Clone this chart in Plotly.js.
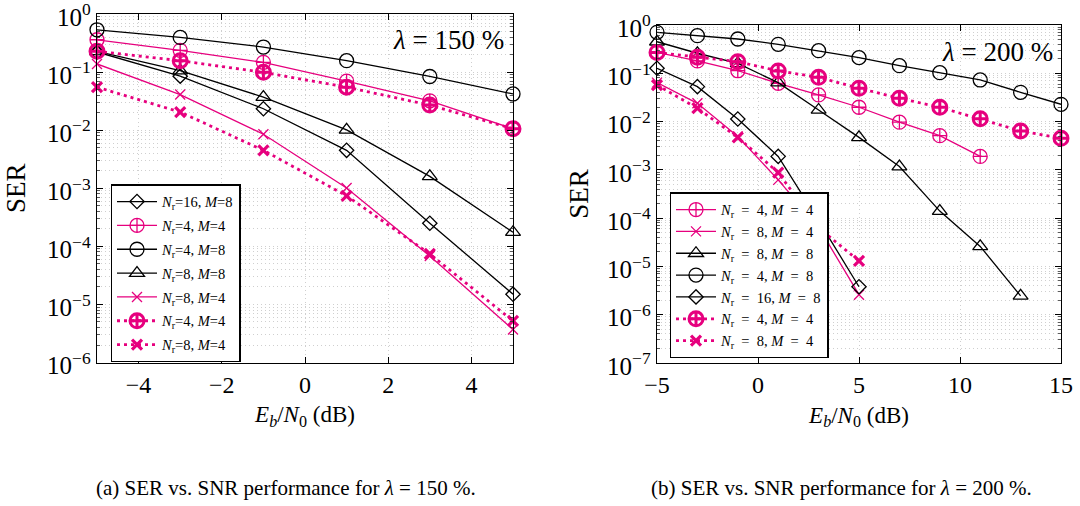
<!DOCTYPE html>
<html>
<head>
<meta charset="utf-8">
<script src="https://cdn.plot.ly/plotly-3.0.1.min.js"></script>
<style>html,body{margin:0;padding:0;background:#fff;}#chart{width:1080px;height:506px;}</style>
</head>
<body>
<div id="chart"></div>
<script>
// ---------- Data: (a) lambda = 150 % ----------
const xA = [-5, -3, -1, 1, 3, 5];
const a_nr16_m8 = [0.222, 0.085, 0.0234, 0.0045, 2.5e-4, 1.5e-5];
const a_nr4_m4 = [0.36, 0.237, 0.147, 0.070, 0.032, 0.0106];
const a_nr4_m8 = [0.535, 0.395, 0.27, 0.157, 0.084, 0.042];
const a_nr8_m8 = [0.228, 0.106, 0.037, 0.0101, 0.0016, 1.75e-4];
const a_nr8_m4 = [0.138, 0.041, 0.0085, 0.00101, 6.8e-5, 3.7e-6];
const a_nr4_m4_dot = [0.228, 0.157, 0.099, 0.055, 0.027, 0.0106];
const a_nr8_m4_dot = [0.055, 0.0205, 0.0045, 7.4e-4, 7.4e-5, 5.2e-6];

// ---------- Data: (b) lambda = 200 % ----------
const xB_short = [-5, -3, -1, 1, 3, 5];
const xB_to11 = [-5, -3, -1, 1, 3, 5, 7, 9, 11];
const xB_to13 = [-5, -3, -1, 1, 3, 5, 7, 9, 11, 13];
const xB_to15 = [-5, -3, -1, 1, 3, 5, 7, 9, 11, 13, 15];
const b_nr4_m4 = [0.27, 0.18, 0.113, 0.062, 0.0356, 0.0198, 0.0097, 0.0051, 0.0019];
const b_nr8_m4 = [0.064, 0.0239, 0.0049, 6.2e-4, 6.5e-5, 2.6e-6];
const b_nr8_m8 = [0.45, 0.26, 0.16, 0.064, 0.0174, 0.0047, 0.00117, 1.4e-4, 2.6e-5, 2.45e-6];
const b_nr4_m8 = [0.705, 0.60, 0.513, 0.398, 0.294, 0.211, 0.144, 0.103, 0.0727, 0.0404, 0.0228];
const b_nr16_m8 = [0.127, 0.0529, 0.0113, 0.0019, 8.9e-5, 3.8e-6];
const b_nr4_m4_dot = [0.27, 0.214, 0.174, 0.112, 0.0826, 0.049, 0.0304, 0.0198, 0.0114, 0.0064, 0.0045];
const b_nr8_m4_dot = [0.057, 0.0189, 0.0047, 8.8e-4, 6.3e-5, 1.3e-5];

// ---------- Labels ----------
const S = '\u00A0';
const EQ = S + S + '=' + S + S;
const namesA = ['<i>N</i><sub>r</sub>=16, <i>M</i>=8', '<i>N</i><sub>r</sub>=4, <i>M</i>=4', '<i>N</i><sub>r</sub>=4, <i>M</i>=8',
  '<i>N</i><sub>r</sub>=8, <i>M</i>=8', '<i>N</i><sub>r</sub>=8, <i>M</i>=4', '<i>N</i><sub>r</sub>=4, <i>M</i>=4', '<i>N</i><sub>r</sub>=8, <i>M</i>=4'];
const namesB = [
  '<i>N</i><sub>r</sub>' + EQ + '4, <i>M</i>' + EQ + '4',
  '<i>N</i><sub>r</sub>' + EQ + '8, <i>M</i>' + EQ + '4',
  '<i>N</i><sub>r</sub>' + EQ + '8, <i>M</i>' + EQ + '8',
  '<i>N</i><sub>r</sub>' + EQ + '4, <i>M</i>' + EQ + '8',
  '<i>N</i><sub>r</sub>' + EQ + '16, <i>M</i>' + EQ + '8',
  '<i>N</i><sub>r</sub>' + EQ + '4, <i>M</i>' + EQ + '4',
  '<i>N</i><sub>r</sub>' + EQ + '8, <i>M</i>' + EQ + '4'];
const yTickValsA = [1, 0.1, 0.01, 0.001, 1e-4, 1e-5, 1e-6];
const yTickTextA = ['10<sup>0</sup>', '10<sup>−1</sup>', '10<sup>−2</sup>', '10<sup>−3</sup>', '10<sup>−4</sup>', '10<sup>−5</sup>', '10<sup>−6</sup>'];
const yTickValsB = [1, 0.1, 0.01, 0.001, 1e-4, 1e-5, 1e-6, 1e-7];
const yTickTextB = ['10<sup>0</sup>', '10<sup>−1</sup>', '10<sup>−2</sup>', '10<sup>−3</sup>', '10<sup>−4</sup>', '10<sup>−5</sup>', '10<sup>−6</sup>', '10<sup>−7</sup>'];
const captionA = '(a) SER vs. SNR performance for <i>λ</i> = 150 %.';
const captionB = '(b) SER vs. SNR performance for <i>λ</i> = 200 %.';
const lamA = '<i>λ</i> = 150 %';
const lamB = '<i>λ</i> = 200 %';
const xTitle = '<i>E</i><sub><i>b</i></sub>/<i>N</i><sub>0</sub> (dB)';

// ---------- Styles ----------
const PINK = '#e6007e';
const BLACK = '#000000';
const DOTDASH = '3px,4px';
const styles = {
  diamond: {line: {color: BLACK, width: 1.3}, marker: {symbol: 'diamond-open', size: 11, color: BLACK, line: {color: BLACK, width: 1.3}}},
  cplus: {line: {color: PINK, width: 1.3}, marker: {symbol: 'circle-cross-open', size: 14, color: PINK, line: {color: PINK, width: 1.3}}},
  circle: {line: {color: BLACK, width: 1.3}, marker: {symbol: 'circle-open', size: 14, color: BLACK, line: {color: BLACK, width: 1.3}}},
  tri: {line: {color: BLACK, width: 1.3}, marker: {symbol: 'triangle-up-open', size: 13, color: BLACK, line: {color: BLACK, width: 1.3}}},
  xthin: {line: {color: PINK, width: 1.3}, marker: {symbol: 'x-thin-open', size: 10, color: PINK, line: {color: PINK, width: 1.3}}},
  cplusDot: {line: {color: PINK, width: 2.8, dash: DOTDASH}, marker: {symbol: 'circle-cross-open', size: 14, color: PINK, line: {color: PINK, width: 3}}},
  xDot: {line: {color: PINK, width: 2.8, dash: DOTDASH}, marker: {symbol: 'x-thin-open', size: 10, color: PINK, line: {color: PINK, width: 3.2}}}
};

function tr(x, y, name, st, xa, ya, leg, gid) {
  return {
    x: x, y: y, name: name, type: 'scatter', mode: 'lines+markers',
    xaxis: xa, yaxis: ya, legend: leg, legendgroup: gid,
    line: st.line, marker: st.marker, cliponaxis: false
  };
}

const data = [
  tr(xA, a_nr16_m8, namesA[0], styles.diamond, 'x', 'y', 'legend', 'a1'),
  tr(xA, a_nr4_m4, namesA[1], styles.cplus, 'x', 'y', 'legend', 'a2'),
  tr(xA, a_nr4_m8, namesA[2], styles.circle, 'x', 'y', 'legend', 'a3'),
  tr(xA, a_nr8_m8, namesA[3], styles.tri, 'x', 'y', 'legend', 'a4'),
  tr(xA, a_nr8_m4, namesA[4], styles.xthin, 'x', 'y', 'legend', 'a5'),
  tr(xA, a_nr4_m4_dot, namesA[5], styles.cplusDot, 'x', 'y', 'legend', 'a6'),
  tr(xA, a_nr8_m4_dot, namesA[6], styles.xDot, 'x', 'y', 'legend', 'a7'),

  tr(xB_to11, b_nr4_m4, namesB[0], styles.cplus, 'x2', 'y2', 'legend2', 'b1'),
  tr(xB_short, b_nr8_m4, namesB[1], styles.xthin, 'x2', 'y2', 'legend2', 'b2'),
  tr(xB_to13, b_nr8_m8, namesB[2], styles.tri, 'x2', 'y2', 'legend2', 'b3'),
  tr(xB_to15, b_nr4_m8, namesB[3], styles.circle, 'x2', 'y2', 'legend2', 'b4'),
  tr(xB_short, b_nr16_m8, namesB[4], styles.diamond, 'x2', 'y2', 'legend2', 'b5'),
  tr(xB_to15, b_nr4_m4_dot, namesB[5], styles.cplusDot, 'x2', 'y2', 'legend2', 'b6'),
  tr(xB_short, b_nr8_m4_dot, namesB[6], styles.xDot, 'x2', 'y2', 'legend2', 'b7')
];

const FONT = '"Liberation Serif", "Times New Roman", serif';
const GRID = '#cfcfcf';
const GDASH = '1px,3px';

function xAxis(domain, range, dtick, anchor) {
  return {
    domain: domain, range: range, dtick: dtick, tick0: 0, anchor: anchor,
    ticks: 'inside', ticklen: 6, tickwidth: 1, tickcolor: BLACK,
    showline: true, linecolor: BLACK, linewidth: 1.3, mirror: 'ticks',
    showgrid: true, gridcolor: GRID, griddash: GDASH, gridwidth: 1, zeroline: false,
    tickfont: {family: FONT, size: 24, color: BLACK},
    title: {text: xTitle, font: {family: FONT, size: 23, color: BLACK}, standoff: 9}
  };
}
function yAxis(domain, range, vals, text, anchor, fs, so) {
  return {
    domain: domain, type: 'log', range: range, anchor: anchor,
    tickmode: 'array', tickvals: vals, ticktext: text, ticklabeloverflow: 'allow',
    ticklabelshift: 3,
    ticks: 'inside', ticklen: 6, tickwidth: 1, tickcolor: BLACK,
    showline: true, linecolor: BLACK, linewidth: 1.3, mirror: 'ticks',
    showgrid: true, gridcolor: GRID, griddash: GDASH, gridwidth: 1, zeroline: false,
    minor: {ticks: 'inside', ticklen: 3, tickwidth: 0.8, tickcolor: '#333', dtick: 'D1',
            showgrid: true, gridcolor: GRID, griddash: GDASH, gridwidth: 1},
    tickfont: {family: FONT, size: fs, color: BLACK},
    title: {text: 'SER', font: {family: FONT, size: 27, color: BLACK}, standoff: so}
  };
}

const legendBase = {
  xanchor: 'left', yanchor: 'top', bgcolor: '#ffffff', bordercolor: BLACK, borderwidth: 1.3,
  traceorder: 'grouped', itemwidth: 40
};

const layout = {
  width: 1080, height: 506,
  margin: {l: 0, r: 0, t: 0, b: 0},
  paper_bgcolor: '#ffffff', plot_bgcolor: '#ffffff',
  font: {family: FONT, color: BLACK},
  showlegend: true,
  xaxis: xAxis([97/1080, 513/1080], [-5, 5], 2, 'y'),
  yaxis: yAxis([1 - 362.5/506, 1 - 14/506], [-6, 0], yTickValsA, yTickTextA, 'x', 25, 13),
  xaxis2: xAxis([657/1080, 1061/1080], [-5, 15], 5, 'y2'),
  yaxis2: yAxis([1 - 363/506, 1 - 25/506], [-7, 0], yTickValsB, yTickTextB, 'x2', 25, 10),
  legend: Object.assign({}, legendBase, {x: 110.7/1080, y: 1 - 184.3/506, tracegroupgap: 2,
    font: {family: FONT, size: 14.5, color: BLACK}}),
  legend2: Object.assign({}, legendBase, {x: 669.7/1080, y: 1 - 192.3/506, tracegroupgap: 0,
    font: {family: FONT, size: 14.5, color: BLACK}}),
  annotations: [
    {text: lamA, xref: 'paper', yref: 'paper', x: 448/1080, y: 1 - 40/506, showarrow: false,
     xanchor: 'center', yanchor: 'middle', font: {family: FONT, size: 27, color: BLACK}},
    {text: lamB, xref: 'paper', yref: 'paper', x: 997/1080, y: 1 - 52/506, showarrow: false,
     xanchor: 'center', yanchor: 'middle', font: {family: FONT, size: 27, color: BLACK}},
    {text: captionA, xref: 'paper', yref: 'paper', x: 286/1080, y: 1 - 488/506, showarrow: false,
     xanchor: 'center', yanchor: 'middle', font: {family: FONT, size: 21, color: BLACK}},
    {text: captionB, xref: 'paper', yref: 'paper', x: 841/1080, y: 1 - 488/506, showarrow: false,
     xanchor: 'center', yanchor: 'middle', font: {family: FONT, size: 21, color: BLACK}}
  ]
};

Plotly.newPlot('chart', data, layout, {staticPlot: true, displayModeBar: false});
</script>
</body>
</html>
